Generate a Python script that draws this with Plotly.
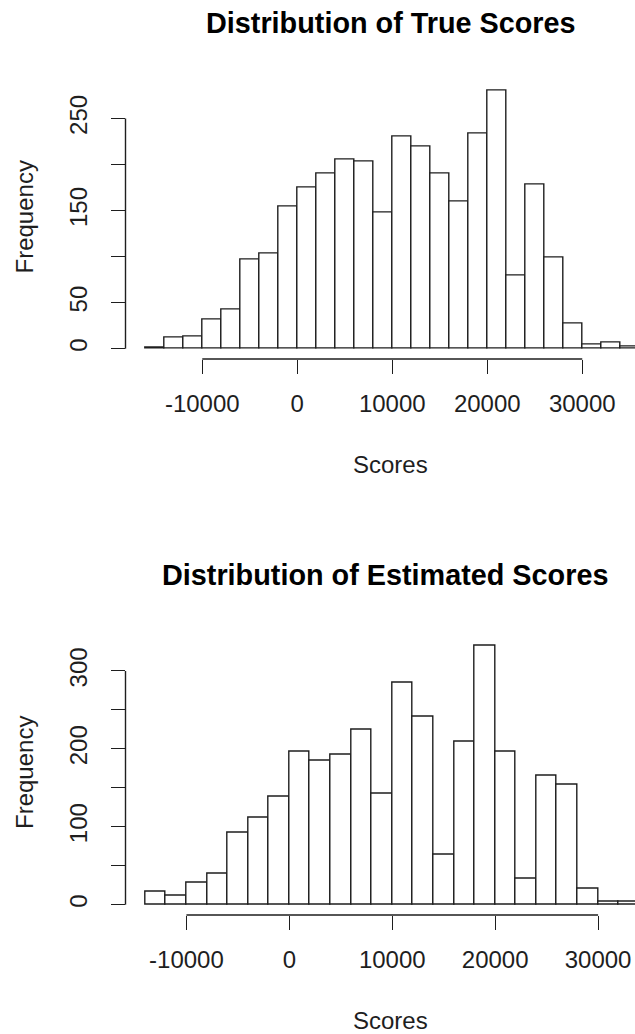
import plotly.graph_objects as go

# ---------------- data ----------------
true_edges = [-16000, -14000, -12000, -10000, -8000, -6000, -4000, -2000, 0, 2000,
              4000, 6000, 8000, 10000, 12000, 14000, 16000, 18000, 20000, 22000,
              24000, 26000, 28000, 30000, 32000, 34000, 36000]
true_counts = [1, 12, 13, 32, 42, 97, 103, 154, 175, 190, 205, 203, 148, 230, 220,
               190, 160, 234, 280, 79, 178, 99, 27, 4, 7, 2]

est_edges = [-14000, -12000, -10000, -8000, -6000, -4000, -2000, 0, 2000, 4000,
             6000, 8000, 10000, 12000, 14000, 16000, 18000, 20000, 22000, 24000,
             26000, 28000, 30000, 32000, 34000]
est_counts = [16, 12, 28, 40, 92, 112, 138, 197, 185, 193, 225, 142, 285, 241, 64,
              209, 332, 197, 33, 165, 154, 20, 4, 4]

x_tickvals = [-10000, 0, 10000, 20000, 30000]
x_ticktext = ["-10000", "0", "10000", "20000", "30000"]
true_yticks = [0, 50, 100, 150, 200, 250]
true_yticktext = ["0", "50", "", "150", "", "250"]
est_yticks = [0, 50, 100, 150, 200, 250, 300]
est_yticktext = ["0", "", "100", "", "200", "", "300"]

titles = ["Distribution of True Scores", "Distribution of Estimated Scores"]
x_label = "Scores"
y_label = "Frequency"

# ---------------- layout geometry (pixels) ----------------
W, H = 635, 1034
PLOT_LEFT = 125.5
VISIBLE = 0.955          # share of R's plot region visible before the crop
FONT = "Liberation Sans, Arial, Helvetica, sans-serif"
INK = "#1e1e1e"
LINE_W = 1.4

panels = [
    dict(edges=true_edges, counts=true_counts, yticks=true_yticks, yticktext=true_yticktext,
         top=80.6, bottom=359.0, title=titles[0], title_y=23, title_x=390.7, xlab_y=464,
         ylab_y=217.5),
    dict(edges=est_edges, counts=est_counts, yticks=est_yticks, yticktext=est_yticktext,
         top=635.7, bottom=915.0, title=titles[1], title_y=575, title_x=385, xlab_y=1020,
         ylab_y=773),
]

fig = go.Figure()
shapes = []
annotations = []

for i, p in enumerate(panels):
    n = "" if i == 0 else str(i + 1)
    xa, ya = "x" + n, "y" + n
    edges, counts = p["edges"], p["counts"]
    centers = [(a + b) / 2 for a, b in zip(edges[:-1], edges[1:])]
    widths = [b - a for a, b in zip(edges[:-1], edges[1:])]

    fig.add_trace(go.Bar(
        x=centers, y=counts, width=widths, xaxis=xa, yaxis=ya,
        marker=dict(color="white", line=dict(color=INK, width=LINE_W)),
        showlegend=False, hoverinfo="x+y",
    ))

    lo, hi = min(edges), max(edges)
    ext = 0.04 * (hi - lo)
    x0 = lo - ext
    x1 = x0 + (hi - lo + 2 * ext) * VISIBLE
    ymax = max(counts)
    yr = [-0.04 * ymax, 1.04 * ymax]

    ydom = [1 - p["bottom"] / H, 1 - p["top"] / H]
    xdom = [PLOT_LEFT / W, 1.0]

    axis_common = dict(showgrid=False, zeroline=False, showline=False,
                       ticks="outside", ticklen=14, tickwidth=LINE_W, tickcolor=INK,
                       tickfont=dict(family=FONT, size=24, color=INK))
    fig.layout["xaxis" + n] = dict(domain=xdom, range=[x0, x1], anchor=ya,
                                   tickmode="array", tickvals=x_tickvals, ticktext=x_ticktext,
                                   ticklabelstandoff=9, **axis_common)
    fig.layout["yaxis" + n] = dict(domain=ydom, range=yr, anchor=xa,
                                   tickmode="array", tickvals=p["yticks"], ticktext=p["yticktext"],
                                   tickangle=-90, ticklabelstandoff=14, **axis_common)

    # R style axis lines spanning only the tick range
    shapes.append(dict(type="line", xref=xa, yref="paper",
                       x0=min(x_tickvals), x1=max(x_tickvals), y0=ydom[0], y1=ydom[0],
                       line=dict(color=INK, width=LINE_W)))
    shapes.append(dict(type="line", xref="paper", yref=ya,
                       x0=xdom[0], x1=xdom[0], y0=min(p["yticks"]), y1=max(p["yticks"]),
                       line=dict(color=INK, width=LINE_W)))

    annotations.append(dict(text="<b>" + p["title"] + "</b>", xref="paper", yref="paper",
                            x=p["title_x"] / W, y=1 - p["title_y"] / H, xanchor="center",
                            yanchor="middle", showarrow=False,
                            font=dict(family=FONT, size=28.8, color="#000")))
    annotations.append(dict(text=x_label, xref="paper", yref="paper",
                            x=390.7 / W, y=1 - p["xlab_y"] / H, xanchor="center",
                            yanchor="middle", showarrow=False,
                            font=dict(family=FONT, size=24, color=INK)))
    annotations.append(dict(text=y_label, xref="paper", yref="paper", textangle=-90,
                            x=24 / W, y=1 - p["ylab_y"] / H, xanchor="center",
                            yanchor="middle", showarrow=False,
                            font=dict(family=FONT, size=24, color=INK)))

fig.update_layout(
    width=W, height=H, margin=dict(l=0, r=0, t=0, b=0, pad=0),
    paper_bgcolor="white", plot_bgcolor="white",
    bargap=0, shapes=shapes, annotations=annotations,
    font=dict(family=FONT, color=INK),
)

fig.write_html("out.html")
